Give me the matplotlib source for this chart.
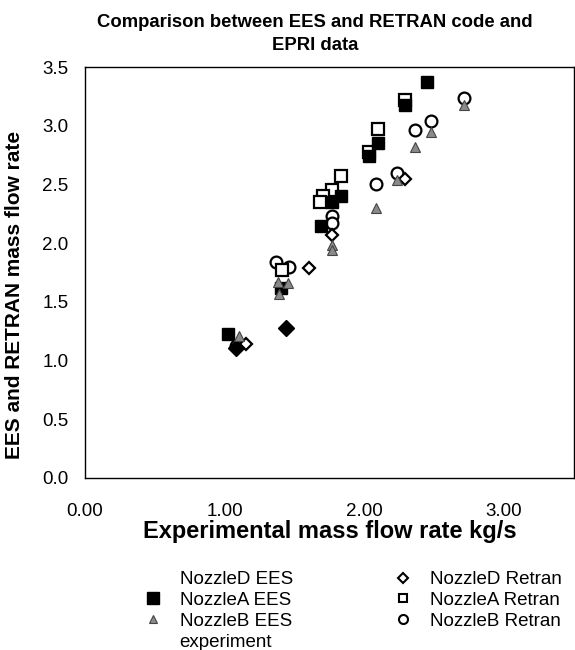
import matplotlib
matplotlib.use("Agg")
import matplotlib.pyplot as plt
from matplotlib.lines import Line2D

plt.rcParams['font.family'] = ['Liberation Sans', 'DejaVu Sans']

# Data
nozA_ees_x = [2.45, 2.29, 2.10, 2.03, 1.83, 1.77, 1.69, 1.40, 1.02]
nozA_ees_y = [3.37, 3.18, 2.85, 2.74, 2.40, 2.35, 2.15, 1.62, 1.23]

nozB_ees_x = [2.71, 2.48, 2.36, 2.23, 2.08, 1.77, 1.77, 1.38, 1.45, 1.39, 1.10]
nozB_ees_y = [3.18, 2.95, 2.82, 2.54, 2.30, 1.98, 1.94, 1.67, 1.66, 1.57, 1.21]

nozD_ees_x = [1.44, 1.08]
nozD_ees_y = [1.28, 1.11]

nozD_ret_x = [2.29, 1.77, 1.60, 1.15]
nozD_ret_y = [2.55, 2.07, 1.79, 1.14]

nozA_ret_x = [2.29, 2.10, 2.03, 1.83, 1.77, 1.70, 1.68, 1.41]
nozA_ret_y = [3.22, 2.97, 2.78, 2.57, 2.45, 2.40, 2.35, 1.77]

nozB_ret_x = [2.71, 2.48, 2.36, 2.23, 2.08, 1.77, 1.77, 1.37, 1.46, 1.08]
nozB_ret_y = [3.24, 3.04, 2.96, 2.60, 2.50, 2.23, 2.17, 1.84, 1.80, 1.12]

x_ticks = [0, 1, 2, 3]
x_ticklabels = ["0.00", "1.00", "2.00", "3.00"]
y_ticks = [0, 0.5, 1.0, 1.5, 2.0, 2.5, 3.0, 3.5]

fig = plt.figure(figsize=(5.75, 6.5), dpi=100)
ax = fig.add_axes([85/575, 1-478/650, (574-85)/575, (478-67)/650])

ax.plot(nozB_ret_x, nozB_ret_y, linestyle='none', marker='o', ms=8.5,
        mfc='white', mec='black', mew=1.6, zorder=3)
ax.plot(nozA_ret_x, nozA_ret_y, linestyle='none', marker='s', ms=8,
        mfc='white', mec='black', mew=1.6, zorder=3)
ax.plot(nozD_ret_x, nozD_ret_y, linestyle='none', marker='D', ms=6,
        mfc='white', mec='black', mew=1.6, zorder=3)
ax.plot(nozA_ees_x, nozA_ees_y, linestyle='none', marker='s', ms=9,
        mfc='black', mec='black', zorder=4)
ax.plot(nozD_ees_x, nozD_ees_y, linestyle='none', marker='D', ms=8,
        mfc='black', mec='black', zorder=4)
ax.plot(nozB_ees_x, nozB_ees_y, linestyle='none', marker='^', ms=7,
        mfc='#8a8a8a', mec='#444444', mew=0.8, zorder=5)

ax.set_xlim(0, 3.5)
ax.set_ylim(0, 3.5)
ax.set_xticks(x_ticks)
ax.set_xticklabels(x_ticklabels)
ax.set_yticks(y_ticks)
ax.set_yticklabels([f"{v:.1f}" for v in y_ticks])
ax.tick_params(length=0, labelsize=13.5, pad=12)
ax.tick_params(axis='x', pad=18)
for s in ax.spines.values():
    s.set_linewidth(1.0)
    s.set_color('black')

ax.set_xlabel("Experimental mass flow rate kg/s", fontsize=17, fontweight='bold', labelpad=0)
ax.set_ylabel("EES and RETRAN mass flow rate", fontsize=15, fontweight='bold')
ax.yaxis.set_label_coords(-0.125, 0.446)

fig.text(315/575, 1-14/650, "Comparison between EES and RETRAN code and\nEPRI data",
         ha='center', va='top', fontsize=13.3, fontweight='bold', linespacing=1.45)

h1 = [
    Line2D([], [], linestyle='none', marker='none'),
    Line2D([], [], linestyle='none', marker='s', ms=8, mfc='black', mec='black'),
    Line2D([], [], linestyle='none', marker='^', ms=6, mfc='#8a8a8a', mec='#444444', mew=0.8),
    Line2D([], [], linestyle='none', marker='none'),
]
l1 = ["NozzleD EES", "NozzleA EES", "NozzleB EES", "experiment"]
h2 = [
    Line2D([], [], linestyle='none', marker='D', ms=5, mfc='white', mec='black', mew=1.5),
    Line2D([], [], linestyle='none', marker='s', ms=6, mfc='white', mec='black', mew=1.5),
    Line2D([], [], linestyle='none', marker='o', ms=6.5, mfc='white', mec='black', mew=1.5),
]
l2 = ["NozzleD Retran", "NozzleA Retran", "NozzleB Retran"]

leg1 = fig.legend(h1, l1, loc='upper left', bbox_to_anchor=(142/575, 1-571/650),
                  frameon=False, fontsize=13.5, handlelength=1.2, handletextpad=0.8,
                  labelspacing=0.2, borderpad=0, borderaxespad=0)
leg2 = fig.legend(h2, l2, loc='upper left', bbox_to_anchor=(392/575, 1-571/650),
                  frameon=False, fontsize=13.5, handlelength=1.2, handletextpad=0.8,
                  labelspacing=0.2, borderpad=0, borderaxespad=0)

fig.savefig("out.png", dpi=100)
